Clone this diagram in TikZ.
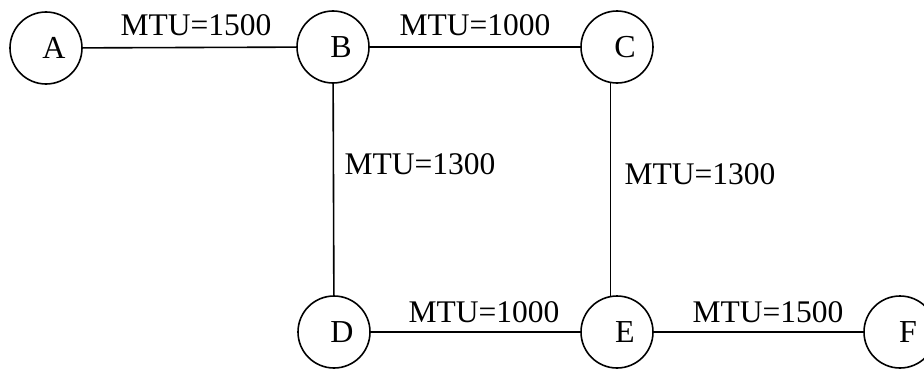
\documentclass[tikz,border=0pt]{standalone}
\usepackage{fontspec}
\setmainfont{Liberation Serif}
\begin{document}
\begin{tikzpicture}[x=1pt,y=1pt,
  vertex/.style={draw,circle,line width=1.6pt,minimum size=72pt,inner sep=0pt,font=\fontsize{32}{38}\selectfont},
  link/.style={line width=1.6pt},
  mtu/.style={inner sep=0pt,font=\fontsize{31.5}{38}\selectfont}]
\useasboundingbox (0,0) rectangle (924,368);
\node[vertex] (A) at (46,320) {\hspace*{16pt}A};
\node[vertex] (B) at (333,321) {\hspace*{16pt}B};
\node[vertex] (C) at (617,321) {\hspace*{16pt}C};
\node[vertex] (D) at (334,36) {\hspace*{16pt}D};
\node[vertex] (E) at (617,36) {\hspace*{16pt}E};
\node[vertex] (F) at (900,36) {\hspace*{16pt}F};
\draw[link] (A) -- (B);
\draw[link] (B) -- (C);
\draw[link] (B) -- (D);
\draw[link] (C.260) -- (E.100);
\draw[link] (D) -- (E);
\draw[link] (E) -- (F);
\node[mtu] (l1) at (196,343) {MTU=1500};
\node[mtu] (l2) at (475,343) {MTU=1000};
\node[mtu] (l3) at (420,204) {MTU=1300};
\node[mtu] (l4) at (700,194) {MTU=1300};
\node[mtu] (l5) at (484,56) {MTU=1000};
\node[mtu] (l6) at (768,56) {MTU=1500};
\end{tikzpicture}
\end{document}
